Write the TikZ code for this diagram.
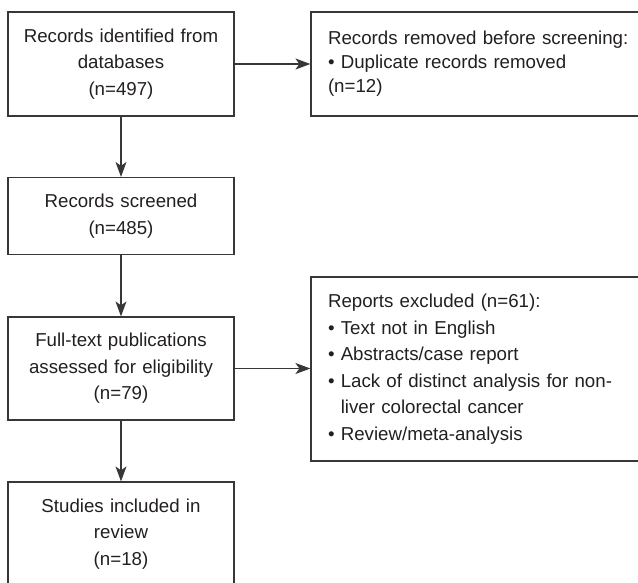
\documentclass[tikz,border=0pt]{standalone}
\usepackage{fontspec}
\setmainfont{Liberation Sans}
\usetikzlibrary{arrows.meta,positioning}
\tikzset{
    >={Stealth[length=15pt,width=11pt,inset=4pt]}
}

\begin{document}
\begin{tikzpicture}[x=1pt,y=-1pt]
  % dark greys of the scanned chart
  \definecolor{lineColor}{RGB}{55,55,55}
  \definecolor{textColor}{RGB}{35,31,32}

  % common styles for the boxes
  \tikzset{
    stagebox/.style={
      draw=lineColor,
      line width=1.2pt,
      minimum width=226pt,
      text width=212pt,
      align=center,
      inner sep=0pt,
      text=textColor,
      font=\fontsize{18.7}{26.5}\selectfont
    },
    sidebox/.style={
      draw=lineColor,
      line width=1.2pt,
      minimum width=340pt,
      text width=306pt,
      align=left,
      inner xsep=17pt,
      inner ysep=0pt,
      text=textColor,
      font=\fontsize{18.7}{26.5}\selectfont
    },
    flow/.style={->, draw=lineColor, line width=1.2pt}
  }

  \useasboundingbox (0,0) rectangle (638,583);
  \clip (0,0) rectangle (638,583);

  % main column
  \node[stagebox, minimum height=104pt] (ident)    at (121,64)    {Records identified from\\databases\\(n=497)};
  \node[stagebox, minimum height=77pt]  (screened) at (121,216)   {Records screened\\(n=485)};
  \node[stagebox, minimum height=103pt] (fulltext) at (121,368.5) {Full-text publications\\assessed for eligibility\\(n=79)};
  \node[stagebox, minimum height=104pt] (included) at (121,534)   {Studies included in\\review\\(n=18)};

  % side boxes (run past the right edge)
  \node[sidebox, minimum height=104pt, font=\fontsize{18.7}{24}\selectfont] (removed) at (481,64)
    {Records removed before screening:\\\textbullet\ Duplicate records removed\\(n=12)};
  \node[sidebox, minimum height=184pt] (excluded) at (481,369)
    {Reports excluded (n=61):\\
     \textbullet\ Text not in English\\
     \textbullet\ Abstracts/case report\\
     \textbullet\ Lack of distinct analysis for non-\\
     \hphantom{\textbullet\ }liver colorectal cancer\\
     \textbullet\ Review/meta-analysis};

  % connectors
  \draw[flow] (ident) -- (screened);
  \draw[flow] (screened) -- (fulltext);
  \draw[flow] (fulltext) -- (included);
  \draw[flow] (ident.east) -- (ident.east -| removed.west);
  \draw[flow] (fulltext.east) -- (fulltext.east -| excluded.west);
\end{tikzpicture}
\end{document}
